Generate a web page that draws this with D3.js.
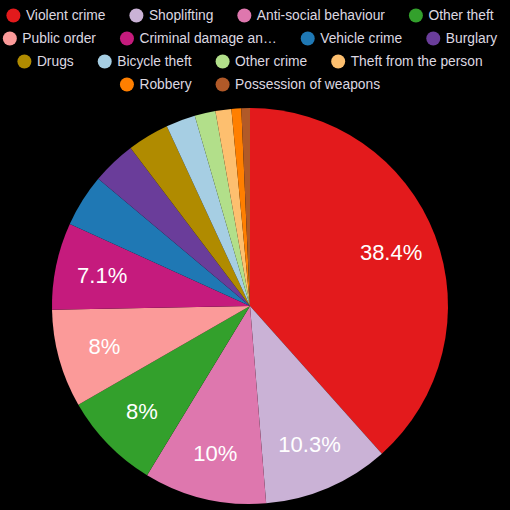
<!DOCTYPE html>
<html lang="en">
<head>
  <meta charset="UTF-8"/>
  <title>Crime breakdown</title>
  <script src="https://d3js.org/d3.v7.min.js"></script>
  <style>
    body { margin: 0; background: #000; }
    svg { display: block; font-family: "Liberation Sans", Arial, sans-serif; }
  </style>
</head>
<body>
<svg id="chart"></svg>
<script>
const categories = ["Violent crime", "Shoplifting", "Anti-social behaviour", "Other theft",
  "Public order", "Criminal damage an\u2026", "Vehicle crime", "Burglary",
  "Drugs", "Bicycle theft", "Other crime", "Theft from the person",
  "Robbery", "Possession of weapons"];
const shares = [38.4, 10.3, 10.0, 8.0, 8.0, 7.1, 4.3, 3.6, 3.4, 2.4, 1.7, 1.3, 0.8, 0.7];
const colors = ["#e31a1c", "#cab2d6", "#de77ae", "#33a02c", "#fb9a99", "#c51b7d", "#1f78b4",
  "#6a3d9a", "#b08b00", "#a6cee3", "#b2df8a", "#fdbf6f", "#ff7f00", "#b15928"];

const width = 510, height = 510;
const cx = 250, cy = 306, radius = 198;

const data = categories.map((c, i) => ({name: c, value: shares[i], color: colors[i]}));

const svg = d3.select("#chart")
    .attr("width", width)
    .attr("height", height);

svg.append("rect")
    .attr("width", width)
    .attr("height", height)
    .attr("fill", "#000");

// legend, wrapped into centred rows
const legend = svg.append("g");
const items = legend.selectAll("g")
    .data(data)
    .enter()
    .append("g");

items.append("circle")
    .attr("r", 7)
    .attr("cx", 7)
    .attr("fill", d => d.color);

items.append("text")
    .attr("x", 19.5)
    .attr("dy", "0.35em")
    .attr("font-size", 13.8)
    .attr("fill", "#ddd8e0")
    .text(d => d.name);

const gap = 24, maxW = 500, rowH = 23;
let rows = [[]], rowW = 0;
items.each(function () {
  const w = 19.5 + d3.select(this).select("text").node().getComputedTextLength();
  const extra = rows[rows.length - 1].length ? gap + w : w;
  if (rowW + extra > maxW) {
    rows.push([]);
    rowW = w;
  } else {
    rowW += extra;
  }
  rows[rows.length - 1].push({node: this, w: w});
});

rows.forEach((row, r) => {
  const total = d3.sum(row, d => d.w) + gap * (row.length - 1);
  let x = 250 - total / 2;
  row.forEach(it => {
    d3.select(it.node).attr("transform", `translate(${x}, ${15.5 + r * rowH})`);
    x += it.w + gap;
  });
});

// pie
const pie = d3.pie()
    .value(d => d.value)
    .sort(null);

const arc = d3.arc()
    .innerRadius(0)
    .outerRadius(radius);

const labelArc = d3.arc()
    .innerRadius(151)
    .outerRadius(151);

const chart = svg.append("g")
    .attr("transform", `translate(${cx}, ${cy})`);

const slices = chart.selectAll(".slice")
    .data(pie(data))
    .enter()
    .append("g")
    .attr("class", "slice");

slices.append("path")
    .attr("d", arc)
    .attr("fill", d => d.data.color);

slices.filter(d => d.data.value >= 5)
    .append("text")
    .attr("transform", d => `translate(${labelArc.centroid(d)})`)
    .attr("text-anchor", "middle")
    .attr("dy", "0.35em")
    .attr("font-size", 22)
    .attr("fill", "#fff")
    .text(d => d3.format("~")(d.data.value) + "%");
</script>
</body>
</html>
